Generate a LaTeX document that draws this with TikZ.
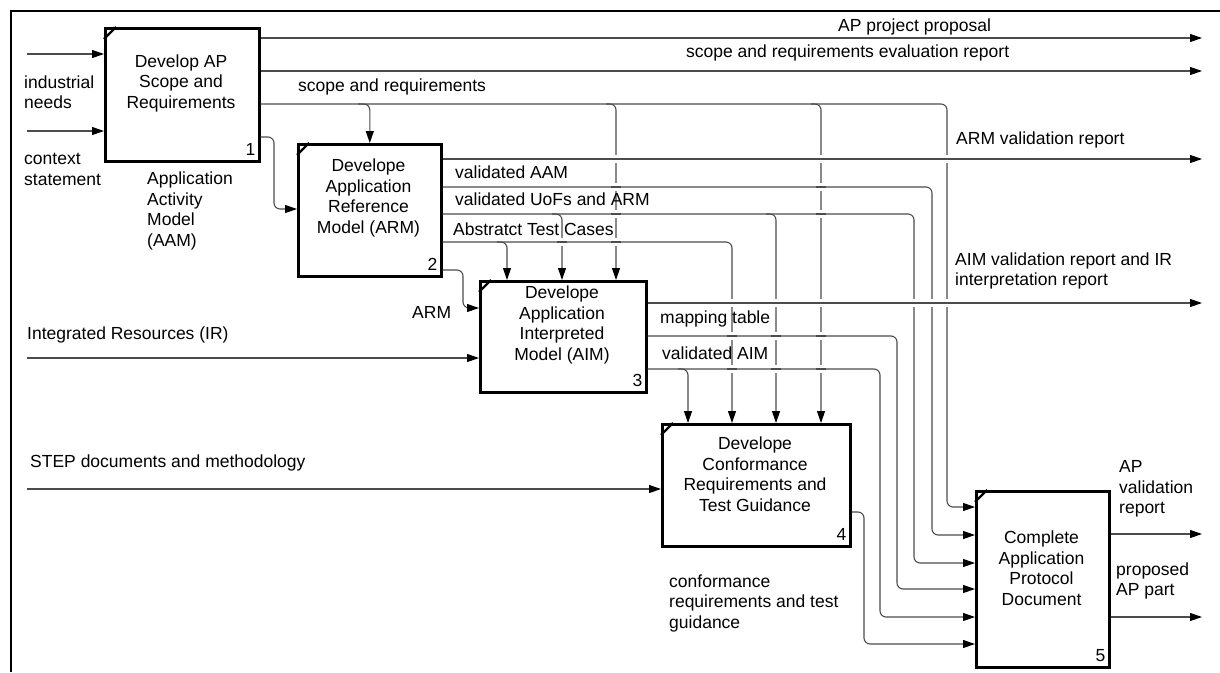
\documentclass[tikz,border=0pt]{standalone}
\usepackage{fontspec}
\setmainfont{Liberation Sans}
\usetikzlibrary{arrows.meta}
\begin{document}
\begin{tikzpicture}[x=1pt,y=-1pt,
  every node/.style={font=\fontsize{17.5pt}{20.5pt}\selectfont, inner sep=0pt},
  act/.style={draw, line width=2.6pt, anchor=north west, fill=white},
  wire/.style={draw=black!70, line width=1.1pt, rounded corners=6pt},
  conn/.style={wire, -{Triangle[length=12pt,width=8pt,color=black]}},
  lbl/.style={anchor=west, align=left},
  ttl/.style={align=center},
  num/.style={anchor=base east},
  tick/.style={line width=2.4pt}
]
\useasboundingbox (0,0) rectangle (1220,672);

% outer frame
\draw[line width=2.2pt] (11,672) -- (11,11) -- (1220,11);

% activity boxes
\node[act, minimum width=154pt, minimum height=133pt] (b1) at (104,27) {};
\node[act, minimum width=143pt, minimum height=132pt] (b2) at (297,143) {};
\node[act, minimum width=166pt, minimum height=111pt] (b3) at (479,280) {};
\node[act, minimum width=188pt, minimum height=122pt] (b4) at (661,423) {};
\node[act, minimum width=133pt, minimum height=176pt] (b5) at (975,490) {};

% corner marks of the activity boxes
\foreach \b in {b1,b2,b3,b4,b5}
  \draw[tick] ([yshift=-12pt]\b.north west) -- ([xshift=12pt]\b.north west);

% box titles
\node[ttl] (t1) at (181,83) {Develop AP\\Scope and\\Requirements};
\node[ttl] (t2) at (368.5,198) {Develope\\Application\\Reference\\Model (ARM)};
\node[ttl] (t3) at (562,325) {Develope\\Application\\Interpreted\\Model (AIM)};
\node[ttl] (t4) at (755,474) {Develope\\Conformance\\Requirements and\\Test Guidance};
\node[ttl] (t5) at (1041.5,568) {Complete\\Application\\Protocol\\Document};

% box numbers
\node[num] (n1) at ([xshift=-5pt,yshift=7pt]b1.south east) {1};
\node[num] (n2) at ([xshift=-5pt,yshift=7pt]b2.south east) {2};
\node[num] (n3) at ([xshift=-5pt,yshift=7pt]b3.south east) {3};
\node[num] (n4) at ([xshift=-5pt,yshift=7pt]b4.south east) {4};
\node[num] (n5) at ([xshift=-5pt,yshift=7pt]b5.south east) {5};

% free ends of inputs and outputs
\coordinate (i1) at (27,54);
\coordinate (i2) at (27,131);
\coordinate (i3) at (27,358);
\coordinate (i4) at (27,489);
\coordinate (o1) at (1202,38);
\coordinate (o2) at (1202,71);
\coordinate (o3) at (1202,159);
\coordinate (o4) at (1202,303);
\coordinate (o5) at (1202,534);
\coordinate (o6) at (1202,617);

% inputs
\draw[conn] (i1) -- (i1 -| b1.west);
\draw[conn] (i2) -- (i2 -| b1.west);
\draw[conn] (i3) -- (i3 -| b3.west);
\draw[conn] (i4) -- (i4 -| b4.west);

% outputs leaving the diagram
\draw[conn] (b1.east |- o1) -- (o1);
\draw[conn] (b1.east |- o2) -- (o2);
\draw[conn] (b2.east |- o3) -- (o3);
\draw[conn] (b3.east |- o4) -- (o4);
\draw[conn] (b5.east |- o5) -- (o5);
\draw[conn] (b5.east |- o6) -- (o6);

% scope and requirements
\draw[conn] (b1.east |- 0,104) -- (947,104) -- (947,507) -- (b5.west |- 0,507);
\draw[conn] (358,104) -| (b2.north);
\draw[conn] (606,104) -| (b3.north -| 616,0);
\draw[conn] (811,104) -| (b4.north -| 821,0);

% application activity model
\draw[conn] (b1.east |- 0,137) -- (274,137) -- (274,209) -- (b2.west |- 0,209);

% validated AAM
\draw[conn] (b2.east |- 0,187) -- (932,187) -- (932,535) -- (b5.west |- 0,535);

% validated UoFs and ARM
\draw[conn] (b2.east |- 0,214) -- (914,214) -- (914,563) -- (b5.west |- 0,563);
\draw[conn] (552,214) -| (b3.north -| 562,0);
\draw[conn] (766,214) -| (b4.north -| 776,0);

% abstract test cases
\draw[conn] (b2.east |- 0,242) -- (732,242) -- (b4.north -| 732,0);
\draw[conn] (497,242) -| (b3.north -| 507,0);

% ARM
\draw[conn] (b2.east |- 0,270) -- (463,270) -- (463,308) -- (b3.west |- 0,308);

% mapping table
\draw[conn] (b3.east |- 0,336) -- (897,336) -- (897,589) -- (b5.west |- 0,589);

% validated AIM
\draw[conn] (b3.east |- 0,369) -- (880,369) -- (880,617) -- (b5.west |- 0,617);
\draw[conn] (678,369) -| (b4.north -| 688,0);

% conformance requirements and test guidance
\draw[conn] (b4.east |- 0,512) -- (864,512) -- (864,644) -- (b5.west |- 0,644);

% breaks in vertical lines where horizontal lines pass over them
\foreach \gx/\gy in {616/159,616/187,616/214,616/242,
                     821/159,821/187,821/214,821/303,821/336,821/369,
                     947/159,947/303,932/303,914/303,562/242,
                     776/303,776/336,776/369,732/303,732/336,732/369} {
  \fill[white] (\gx-2.5,\gy-4) rectangle (\gx+2.5,\gy+4);
  \draw[wire] (\gx-5,\gy) -- (\gx+5,\gy);
}

% labels
\node[lbl] (l1) at (24,92) {industrial\\needs};
\node[lbl] (l2) at (24,169.5) {context\\statement};
\node[lbl] (l3) at (147,211) {Application\\Activity\\Model\\(AAM)};
\node[lbl] (l4) at (838,27) {AP project proposal};
\node[lbl] (l5) at (686,53) {scope and requirements evaluation report};
\node[lbl] (l6) at (298,87) {scope and requirements};
\node[lbl] (l7) at (956,140) {ARM validation report};
\node[lbl] (l8) at (455,172) {validated AAM};
\node[lbl] (l9) at (455,199) {validated UoFs and ARM};
\node[lbl] (l10) at (453,229) {Abstratct Test Cases};
\node[lbl] (l11) at (412,312) {ARM};
\node[lbl] (l12) at (27,335) {Integrated Resources (IR)};
\node[lbl] (l13) at (955,271) {AIM validation report and IR\\interpretation report};
\node[lbl] (l14) at (660,319) {mapping table};
\node[lbl] (l15) at (662,353) {validated AIM};
\node[lbl] (l16) at (30,463) {STEP documents and methodology};
\node[lbl] (l17) at (669,603) {conformance\\requirements and test\\guidance};
\node[lbl] (l18) at (1119,489) {AP\\validation\\report};
\node[lbl] (l19) at (1116,581) {proposed\\AP part};
\end{tikzpicture}
\end{document}
